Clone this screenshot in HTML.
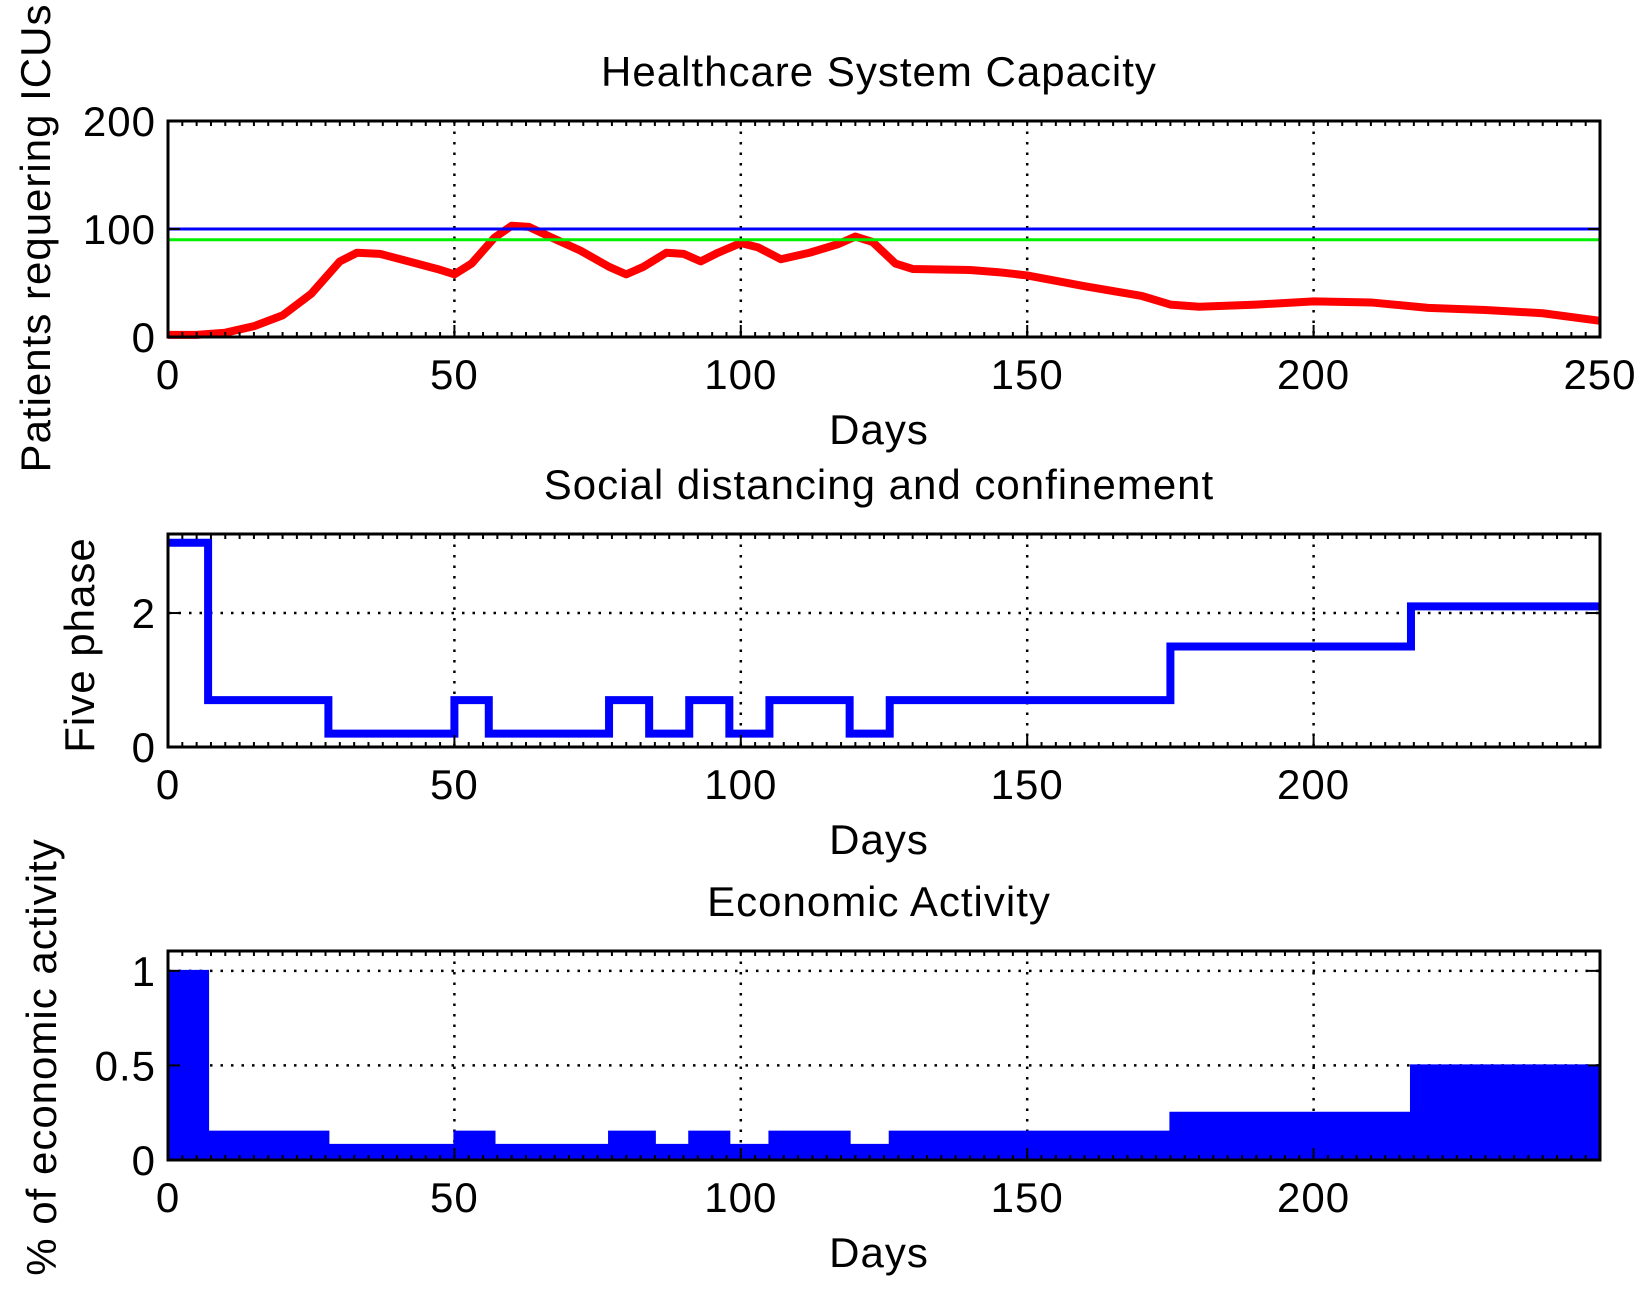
<!DOCTYPE html>
<html><head><meta charset="utf-8"><style>
html,body{margin:0;padding:0;background:#fff;}
svg{display:block;font-family:"Liberation Sans",sans-serif;}
text{fill:#000;letter-spacing:1px;}
</style></head><body>
<svg id="fig" width="1642" height="1296" viewBox="0 0 1642 1296" xmlns="http://www.w3.org/2000/svg"></svg>
<script>
// ICU series (days, patients)
const icuDays=[0,5,10,15,20,25,30,33,37,42,47,50,53,57,60,63,67,72,77,80,83,87,90,93,96,100,103,107,112,117,120,123,127,130,140,145,150,160,170,175,180,190,200,210,220,230,240,250];
const icuVals=[2,2,4,10,20,40,70,78,77,70,63,58,68,92,103,102,92,80,65,58,65,78,77,70,78,87,83,72,78,86,93,88,68,63,62,60,57,47,38,30,28,30,33,32,27,25,22,15];
const capacityBlue=100;
const capacityGreen=90;
// phase steps
const phaseStarts=[0,7,28,50,56,77,84,91,98,105,119,126,175,217];
const phaseVals=[3.05,0.7,0.2,0.7,0.2,0.7,0.2,0.7,0.2,0.7,0.2,0.7,1.5,2.1];
// economic activity steps
const econStarts=[0,7,28,50,57,77,85,91,98,105,119,126,175,217];
const econVals=[1,0.15,0.08,0.15,0.08,0.15,0.08,0.15,0.08,0.15,0.08,0.15,0.25,0.5];
const xTicks=[0,50,100,150,200,250];
const xMax=250;

const NS="http://www.w3.org/2000/svg";
const svg=document.getElementById('fig');
function mk(tag,attrs,parent){const e=document.createElementNS(NS,tag);for(const k in attrs)e.setAttribute(k,attrs[k]);(parent||svg).appendChild(e);return e;}

const X0=168,X1=1600;
const FS=42;
function xs(d){return X0+(X1-X0)*d/xMax;}

function axes(cfg){
  const g=mk('g',{});
  
  
  const ys=v=>cfg.y1-(cfg.y1-cfg.y0)*(v-cfg.ymin)/(cfg.ymax-cfg.ymin);
  cfg.ys=ys;cfg.g=g;
  xTicks.forEach(t=>{if(t>0&&t<xMax){const l=mk('line',{x1:xs(t),x2:xs(t),y1:cfg.y0,y2:cfg.y1,stroke:'#000','stroke-width':2.5,'stroke-dasharray':'2.5,8'},g);}});
  cfg.yGrid.forEach(t=>{const l=mk('line',{x1:X0,x2:X1,y1:ys(t),y2:ys(t),stroke:'#000','stroke-width':2.5,'stroke-dasharray':'2.5,8'},g);});
  return cfg;
}
function frame(cfg){
  const g=cfg.g,ys=cfg.ys;
  const f=mk('rect',{x:X0,y:cfg.y0,width:X1-X0,height:cfg.y1-cfg.y0,fill:'none',stroke:'#000','stroke-width':3},g);
  
  for(let d=0;d<=xMax;d+=2.5){
    mk('line',{x1:xs(d),x2:xs(d),y1:cfg.y1,y2:cfg.y1-5,stroke:'#000','stroke-width':2},g);
    mk('line',{x1:xs(d),x2:xs(d),y1:cfg.y0,y2:cfg.y0+5,stroke:'#000','stroke-width':2},g);
  }
  xTicks.forEach(t=>{
    mk('line',{x1:xs(t),x2:xs(t),y1:cfg.y1,y2:cfg.y1-12,stroke:'#000','stroke-width':2},g);
    if(t<=cfg.xLabelMax){const tx=mk('text',{x:xs(t),y:cfg.y1+52,'font-size':FS,'text-anchor':'middle'},g);tx.textContent=t;
    }
  });
  cfg.yTicks.forEach((t,i)=>{
    const tx=mk('text',{x:X0-12,y:ys(t)+15,'font-size':FS,'text-anchor':'end'},g);tx.textContent=cfg.yLabels[i];
    
    mk('line',{x1:X0,x2:X0+12,y1:ys(t),y2:ys(t),stroke:'#000','stroke-width':2},g);
    mk('line',{x1:X1,x2:X1-12,y1:ys(t),y2:ys(t),stroke:'#000','stroke-width':2},g);
  });
  const ti=mk('text',{x:(X0+X1)/2-5,y:cfg.y0-35,'font-size':FS,'text-anchor':'middle'},g);ti.textContent=cfg.title;
  
  const xl=mk('text',{x:(X0+X1)/2-5,y:cfg.y1+107,'font-size':FS,'text-anchor':'middle'},g);xl.textContent='Days';
  
  const yl=mk('text',{x:0,y:0,'font-size':FS,'text-anchor':'middle',transform:`translate(${cfg.ylx},${cfg.yly}) rotate(-90)`},g);yl.textContent=cfg.ylabel;
  
}

// Panel 1
const p1=axes({name:'icu-panel',y0:121,y1:337,ymin:0,ymax:200,yGrid:[100],yTicks:[0,100,200],yLabels:['0','100','200'],title:'Healthcare System Capacity',ylabel:'Patients requering ICUs',ylx:50,yly:238,xLabelMax:250});
let d='';icuDays.forEach((x,i)=>{d+=(i?'L':'M')+xs(x)+','+p1.ys(icuVals[i]);});
let e=mk('path',{d:d,fill:'none',stroke:'#ff0000','stroke-width':8,'stroke-linejoin':'round'},p1.g);

e=mk('line',{x1:X0,x2:X1,y1:p1.ys(capacityGreen),y2:p1.ys(capacityGreen),stroke:'#00ee00','stroke-width':3},p1.g);

e=mk('line',{x1:X0,x2:X1,y1:p1.ys(capacityBlue),y2:p1.ys(capacityBlue),stroke:'#0000ff','stroke-width':3},p1.g);

frame(p1);

// Panel 2
const p2=axes({name:'phase-panel',y0:534,y1:747,ymin:0,ymax:3.18,yGrid:[2],yTicks:[0,2],yLabels:['0','2'],title:'Social distancing and confinement',ylabel:'Five phase',ylx:94,yly:645,xLabelMax:200});
d='';phaseStarts.forEach((s,i)=>{const y=p2.ys(phaseVals[i]);const x1=xs(i+1<phaseStarts.length?phaseStarts[i+1]:xMax);d+=(i?'L'+xs(s)+','+y:'M'+xs(s)+','+y)+'L'+x1+','+y;});
e=mk('path',{d:d,fill:'none',stroke:'#0000ff','stroke-width':8},p2.g);

frame(p2);

// Panel 3
const p3=axes({name:'economic-panel',y0:951,y1:1160,ymin:0,ymax:1.105,yGrid:[0.5,1],yTicks:[0,0.5,1],yLabels:['0','0.5','1'],title:'Economic Activity',ylabel:'% of economic activity',ylx:56,yly:1057,xLabelMax:200});
d='M'+xs(0)+','+p3.ys(0);econStarts.forEach((s,i)=>{const y=p3.ys(econVals[i]);const x1=xs(i+1<econStarts.length?econStarts[i+1]:xMax);d+='L'+xs(s)+','+y+'L'+x1+','+y;});d+='L'+xs(xMax)+','+p3.ys(0)+'Z';
e=mk('path',{d:d,fill:'#0000ff',stroke:'#0000ff','stroke-width':2},p3.g);

frame(p3);
</script>
</body></html>
